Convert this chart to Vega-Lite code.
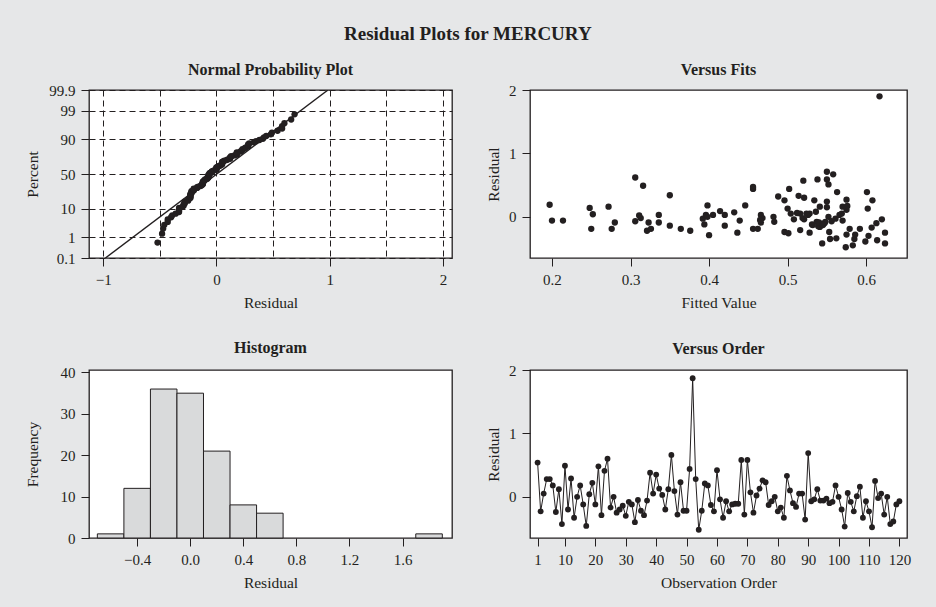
{
"$schema": "https://vega.github.io/schema/vega-lite/v6.json",
"background": "#e6e7e8",
"padding": {"left": 24, "top": 25, "right": 30, "bottom": 20},
"title": {"text": "Residual Plots for MERCURY", "fontSize": 19, "anchor": "middle", "offset": 17},
"bounds": "flush",
"columns": 2,
"spacing": {"row": 112, "column": 78},
"config": {
  "font": "Liberation Serif",
  "view": {"stroke": "#231f20", "strokeWidth": 1.3, "fill": "white"},
  "axis": {"labelFont": "Liberation Serif", "titleFont": "Liberation Serif", "labelFontSize": 15, "titleFontSize": 15.5, "titleFontWeight": "normal", "labelColor": "#231f20", "titleColor": "#231f20", "tickColor": "#231f20", "tickWidth": 1, "domain": false, "grid": false, "tickSize": 8, "labelPadding": 6, "titlePadding": 8, "labelOverlap": false, "tickCount": 20},
  "title": {"font": "Liberation Serif", "fontSize": 16, "fontWeight": "bold", "color": "#231f20", "offset": 10}
},
"datasets": {
  "obs": [
    {"obs":1,"residual":0.54},{"obs":2,"residual":-0.23},{"obs":3,"residual":0.05},{"obs":4,"residual":0.28},{"obs":5,"residual":0.28},
    {"obs":6,"residual":0.18},{"obs":7,"residual":-0.24},{"obs":8,"residual":0.12},{"obs":9,"residual":-0.43},{"obs":10,"residual":0.49},
    {"obs":11,"residual":-0.20},{"obs":12,"residual":0.29},{"obs":13,"residual":-0.33},{"obs":14,"residual":0.00},{"obs":15,"residual":0.18},
    {"obs":16,"residual":-0.12},{"obs":17,"residual":-0.46},{"obs":18,"residual":0.04},{"obs":19,"residual":0.22},{"obs":20,"residual":-0.12},
    {"obs":21,"residual":0.48},{"obs":22,"residual":-0.29},{"obs":23,"residual":0.41},{"obs":24,"residual":0.60},{"obs":25,"residual":-0.17},
    {"obs":26,"residual":0.00},{"obs":27,"residual":-0.25},{"obs":28,"residual":-0.20},{"obs":29,"residual":-0.14},{"obs":30,"residual":-0.30},
    {"obs":31,"residual":-0.08},{"obs":32,"residual":-0.12},{"obs":33,"residual":-0.40},{"obs":34,"residual":-0.05},{"obs":35,"residual":-0.22},
    {"obs":36,"residual":-0.29},{"obs":37,"residual":-0.06},{"obs":38,"residual":0.38},{"obs":39,"residual":0.05},{"obs":40,"residual":0.35},
    {"obs":41,"residual":0.13},{"obs":42,"residual":0.03},{"obs":43,"residual":-0.20},{"obs":44,"residual":0.12},{"obs":45,"residual":0.66},
    {"obs":46,"residual":0.09},{"obs":47,"residual":-0.28},{"obs":48,"residual":0.23},{"obs":49,"residual":-0.22},{"obs":50,"residual":-0.22},
    {"obs":51,"residual":0.44},{"obs":52,"residual":1.87},{"obs":53,"residual":0.28},{"obs":54,"residual":-0.52},{"obs":55,"residual":-0.22},
    {"obs":56,"residual":0.21},{"obs":57,"residual":0.18},{"obs":58,"residual":-0.13},{"obs":59,"residual":-0.23},{"obs":60,"residual":0.42},
    {"obs":61,"residual":-0.04},{"obs":62,"residual":-0.33},{"obs":63,"residual":-0.07},{"obs":64,"residual":-0.23},{"obs":65,"residual":-0.12},
    {"obs":66,"residual":-0.11},{"obs":67,"residual":-0.11},{"obs":68,"residual":0.58},{"obs":69,"residual":-0.28},{"obs":70,"residual":0.58},
    {"obs":71,"residual":0.07},{"obs":72,"residual":-0.25},{"obs":73,"residual":0.02},{"obs":74,"residual":0.13},{"obs":75,"residual":0.26},
    {"obs":76,"residual":0.23},{"obs":77,"residual":-0.13},{"obs":78,"residual":-0.07},{"obs":79,"residual":0.00},{"obs":80,"residual":-0.23},
    {"obs":81,"residual":-0.17},{"obs":82,"residual":-0.33},{"obs":83,"residual":0.33},{"obs":84,"residual":0.10},{"obs":85,"residual":-0.10},
    {"obs":86,"residual":-0.16},{"obs":87,"residual":0.05},{"obs":88,"residual":0.05},{"obs":89,"residual":-0.36},{"obs":90,"residual":0.69},
    {"obs":91,"residual":-0.07},{"obs":92,"residual":-0.04},{"obs":93,"residual":0.12},{"obs":94,"residual":-0.06},{"obs":95,"residual":-0.06},
    {"obs":96,"residual":-0.03},{"obs":97,"residual":-0.10},{"obs":98,"residual":-0.08},{"obs":99,"residual":0.18},{"obs":100,"residual":0.00},
    {"obs":101,"residual":-0.20},{"obs":102,"residual":-0.47},{"obs":103,"residual":0.06},{"obs":104,"residual":-0.08},{"obs":105,"residual":-0.23},
    {"obs":106,"residual":0.01},{"obs":107,"residual":0.16},{"obs":108,"residual":-0.33},{"obs":109,"residual":-0.07},{"obs":110,"residual":-0.23},
    {"obs":111,"residual":-0.48},{"obs":112,"residual":0.25},{"obs":113,"residual":-0.02},{"obs":114,"residual":0.05},{"obs":115,"residual":-0.28},
    {"obs":116,"residual":0.00},{"obs":117,"residual":-0.43},{"obs":118,"residual":-0.39},{"obs":119,"residual":-0.12},{"obs":120,"residual":-0.07}
  ],
  "npp": [
    {"residual":-0.52,"z":-2.523},{"residual":-0.48,"z":-2.194},{"residual":-0.47,"z":-2.006},{"residual":-0.46,"z":-1.870},{"residual":-0.43,"z":-1.762},
    {"residual":-0.43,"z":-1.671},{"residual":-0.40,"z":-1.592},{"residual":-0.39,"z":-1.522},{"residual":-0.36,"z":-1.459},{"residual":-0.33,"z":-1.401},
    {"residual":-0.33,"z":-1.348},{"residual":-0.33,"z":-1.298},{"residual":-0.33,"z":-1.251},{"residual":-0.30,"z":-1.207},{"residual":-0.29,"z":-1.165},
    {"residual":-0.29,"z":-1.125},{"residual":-0.28,"z":-1.086},{"residual":-0.28,"z":-1.049},{"residual":-0.28,"z":-1.014},{"residual":-0.25,"z":-0.980},
    {"residual":-0.25,"z":-0.947},{"residual":-0.24,"z":-0.915},{"residual":-0.23,"z":-0.883},{"residual":-0.23,"z":-0.853},{"residual":-0.23,"z":-0.823},
    {"residual":-0.23,"z":-0.794},{"residual":-0.23,"z":-0.766},{"residual":-0.23,"z":-0.739},{"residual":-0.22,"z":-0.711},{"residual":-0.22,"z":-0.685},
    {"residual":-0.22,"z":-0.659},{"residual":-0.22,"z":-0.633},{"residual":-0.20,"z":-0.608},{"residual":-0.20,"z":-0.583},{"residual":-0.20,"z":-0.559},
    {"residual":-0.20,"z":-0.535},{"residual":-0.17,"z":-0.511},{"residual":-0.17,"z":-0.487},{"residual":-0.16,"z":-0.464},{"residual":-0.14,"z":-0.441},
    {"residual":-0.13,"z":-0.418},{"residual":-0.13,"z":-0.395},{"residual":-0.12,"z":-0.373},{"residual":-0.12,"z":-0.351},{"residual":-0.12,"z":-0.329},
    {"residual":-0.12,"z":-0.307},{"residual":-0.12,"z":-0.285},{"residual":-0.11,"z":-0.263},{"residual":-0.11,"z":-0.242},{"residual":-0.10,"z":-0.220},
    {"residual":-0.10,"z":-0.199},{"residual":-0.08,"z":-0.178},{"residual":-0.08,"z":-0.157},{"residual":-0.08,"z":-0.136},{"residual":-0.07,"z":-0.115},
    {"residual":-0.07,"z":-0.094},{"residual":-0.07,"z":-0.073},{"residual":-0.07,"z":-0.052},{"residual":-0.07,"z":-0.031},{"residual":-0.06,"z":-0.010},
    {"residual":-0.06,"z":0.010},{"residual":-0.06,"z":0.031},{"residual":-0.05,"z":0.052},{"residual":-0.04,"z":0.073},{"residual":-0.04,"z":0.094},
    {"residual":-0.03,"z":0.115},{"residual":-0.02,"z":0.136},{"residual":0.00,"z":0.157},{"residual":0.00,"z":0.178},{"residual":0.00,"z":0.199},
    {"residual":0.00,"z":0.220},{"residual":0.00,"z":0.242},{"residual":0.01,"z":0.263},{"residual":0.02,"z":0.285},{"residual":0.03,"z":0.307},
    {"residual":0.04,"z":0.329},{"residual":0.05,"z":0.351},{"residual":0.05,"z":0.373},{"residual":0.05,"z":0.395},{"residual":0.05,"z":0.418},
    {"residual":0.05,"z":0.441},{"residual":0.06,"z":0.464},{"residual":0.07,"z":0.487},{"residual":0.09,"z":0.511},{"residual":0.10,"z":0.535},
    {"residual":0.12,"z":0.559},{"residual":0.12,"z":0.583},{"residual":0.12,"z":0.608},{"residual":0.13,"z":0.633},{"residual":0.13,"z":0.659},
    {"residual":0.16,"z":0.685},{"residual":0.18,"z":0.711},{"residual":0.18,"z":0.739},{"residual":0.18,"z":0.766},{"residual":0.18,"z":0.794},
    {"residual":0.21,"z":0.823},{"residual":0.22,"z":0.853},{"residual":0.23,"z":0.883},{"residual":0.23,"z":0.915},{"residual":0.25,"z":0.947},
    {"residual":0.26,"z":0.980},{"residual":0.28,"z":1.014},{"residual":0.28,"z":1.049},{"residual":0.28,"z":1.086},{"residual":0.29,"z":1.125},
    {"residual":0.33,"z":1.165},{"residual":0.35,"z":1.207},{"residual":0.38,"z":1.251},{"residual":0.41,"z":1.298},{"residual":0.42,"z":1.348},
    {"residual":0.44,"z":1.401},{"residual":0.48,"z":1.459},{"residual":0.49,"z":1.522},{"residual":0.54,"z":1.592},{"residual":0.58,"z":1.671},
    {"residual":0.58,"z":1.762},{"residual":0.60,"z":1.870},{"residual":0.66,"z":2.006},{"residual":0.69,"z":2.194}
  ],
  "nline": [{"residual":-0.98,"z":-3.0902},{"residual":0.985,"z":3.0902}],
  "fits": [
    {"fitted":0.197,"residual":0.19},{"fitted":0.200,"residual":-0.06},{"fitted":0.214,"residual":-0.06},{"fitted":0.248,"residual":0.14},{"fitted":0.250,"residual":-0.19},
    {"fitted":0.252,"residual":0.04},{"fitted":0.272,"residual":0.16},{"fitted":0.276,"residual":-0.19},{"fitted":0.280,"residual":-0.09},{"fitted":0.306,"residual":0.62},
    {"fitted":0.306,"residual":-0.07},{"fitted":0.311,"residual":0.02},{"fitted":0.313,"residual":-0.02},{"fitted":0.316,"residual":0.49},{"fitted":0.321,"residual":-0.22},
    {"fitted":0.323,"residual":-0.09},{"fitted":0.326,"residual":-0.19},{"fitted":0.336,"residual":-0.09},{"fitted":0.336,"residual":0.03},{"fitted":0.350,"residual":0.34},
    {"fitted":0.350,"residual":-0.14},{"fitted":0.364,"residual":-0.19},{"fitted":0.376,"residual":-0.22},{"fitted":0.392,"residual":-0.03},{"fitted":0.394,"residual":-0.12},
    {"fitted":0.396,"residual":0.03},{"fitted":0.398,"residual":0.18},{"fitted":0.400,"residual":-0.29},{"fitted":0.405,"residual":0.03},{"fitted":0.414,"residual":0.09},
    {"fitted":0.420,"residual":0.03},{"fitted":0.420,"residual":-0.14},{"fitted":0.432,"residual":0.07},{"fitted":0.436,"residual":-0.25},{"fitted":0.439,"residual":-0.06},
    {"fitted":0.446,"residual":0.18},{"fitted":0.456,"residual":0.44},{"fitted":0.456,"residual":0.47},{"fitted":0.456,"residual":-0.19},{"fitted":0.462,"residual":-0.19},
    {"fitted":0.466,"residual":0.03},{"fitted":0.466,"residual":-0.09},{"fitted":0.468,"residual":-0.02},{"fitted":0.465,"residual":-0.05},{"fitted":0.398,"residual":0.00},
    {"fitted":0.482,"residual":0.00},{"fitted":0.483,"residual":-0.08},{"fitted":0.488,"residual":0.32},{"fitted":0.496,"residual":0.26},{"fitted":0.496,"residual":-0.24},
    {"fitted":0.502,"residual":0.44},{"fitted":0.500,"residual":0.13},{"fitted":0.501,"residual":-0.26},{"fitted":0.504,"residual":0.05},{"fitted":0.508,"residual":-0.04},
    {"fitted":0.514,"residual":0.33},{"fitted":0.516,"residual":-0.21},{"fitted":0.516,"residual":0.05},{"fitted":0.520,"residual":0.57},{"fitted":0.521,"residual":0.30},
    {"fitted":0.521,"residual":-0.04},{"fitted":0.524,"residual":0.05},{"fitted":0.528,"residual":0.05},{"fitted":0.528,"residual":-0.25},{"fitted":0.531,"residual":-0.12},
    {"fitted":0.534,"residual":0.26},{"fitted":0.536,"residual":0.08},{"fitted":0.538,"residual":0.59},{"fitted":0.532,"residual":-0.13},{"fitted":0.537,"residual":-0.08},
    {"fitted":0.539,"residual":-0.15},{"fitted":0.541,"residual":0.16},{"fitted":0.541,"residual":-0.16},{"fitted":0.544,"residual":-0.42},{"fitted":0.547,"residual":-0.10},
    {"fitted":0.548,"residual":-0.08},{"fitted":0.550,"residual":0.71},{"fitted":0.550,"residual":0.59},{"fitted":0.550,"residual":0.24},{"fitted":0.550,"residual":0.15},
    {"fitted":0.552,"residual":0.51},{"fitted":0.552,"residual":0.00},{"fitted":0.553,"residual":-0.24},{"fitted":0.554,"residual":-0.35},{"fitted":0.558,"residual":0.67},
    {"fitted":0.561,"residual":-0.03},{"fitted":0.562,"residual":-0.34},{"fitted":0.563,"residual":0.39},{"fitted":0.566,"residual":0.03},{"fitted":0.569,"residual":0.05},
    {"fitted":0.570,"residual":0.16},{"fitted":0.570,"residual":-0.06},{"fitted":0.574,"residual":-0.48},{"fitted":0.575,"residual":0.27},{"fitted":0.575,"residual":0.11},
    {"fitted":0.575,"residual":-0.28},{"fitted":0.576,"residual":0.17},{"fitted":0.579,"residual":-0.19},{"fitted":0.583,"residual":-0.45},{"fitted":0.585,"residual":-0.35},
    {"fitted":0.586,"residual":-0.28},{"fitted":0.592,"residual":-0.19},{"fitted":0.599,"residual":-0.39},{"fitted":0.601,"residual":0.39},{"fitted":0.602,"residual":0.13},
    {"fitted":0.603,"residual":-0.30},{"fitted":0.607,"residual":-0.17},{"fitted":0.608,"residual":0.26},{"fitted":0.613,"residual":-0.10},{"fitted":0.614,"residual":-0.37},
    {"fitted":0.617,"residual":1.90},{"fitted":0.620,"residual":-0.04},{"fitted":0.624,"residual":-0.25},{"fitted":0.624,"residual":-0.42},{"fitted":0.512,"residual":0.06},
    {"fitted":0.526,"residual":0.03},{"fitted":0.540,"residual":-0.09},{"fitted":0.545,"residual":-0.13},{"fitted":0.556,"residual":-0.07},{"fitted":0.519,"residual":-0.02}
  ],
  "hist": [
    {"bin_start":-0.7,"bin_end":-0.5,"count":1},{"bin_start":-0.5,"bin_end":-0.3,"count":12},{"bin_start":-0.3,"bin_end":-0.1,"count":36},
    {"bin_start":-0.1,"bin_end":0.1,"count":35},{"bin_start":0.1,"bin_end":0.3,"count":21},{"bin_start":0.3,"bin_end":0.5,"count":8},
    {"bin_start":0.5,"bin_end":0.7,"count":6},{"bin_start":1.7,"bin_end":1.9,"count":1}
  ]
},
"concat": [
  {
    "width": 363, "height": 168,
    "title": {"text": "Normal Probability Plot", "offset": 5},
    "layer": [
      {
        "data": {"name": "nline"},
        "mark": {"type": "line", "color": "#231f20", "strokeWidth": 1.4, "clip": true},
        "encoding": {
          "x": {"field": "residual", "type": "quantitative", "title": "Residual",
            "scale": {"domain": [-1.125, 2.08], "nice": false, "zero": false},
            "axis": {"values": [-1, -0.5, 0, 0.5, 1, 1.5, 2], "format": "~f", "labelExpr": "datum.value % 1 === 0 ? datum.label : ''",
              "grid": true, "gridDash": [6, 4], "gridColor": "#231f20", "gridWidth": 1, "gridOpacity": 1,
              "tickOpacity": {"condition": {"test": "datum.value % 1 !== 0", "value": 0}, "value": 1}}},
          "y": {"field": "z", "type": "quantitative", "title": "Percent",
            "scale": {"domain": [-3.0902, 3.0902], "nice": false, "zero": false},
            "axis": {"values": [-3.0902, -2.3263, -1.2816, 0, 1.2816, 2.3263, 3.0902],
              "labelExpr": "datum.value < -3 ? '0.1' : datum.value < -2 ? '1' : datum.value < -1 ? '10' : datum.value < 1 ? '50' : datum.value < 2 ? '90' : datum.value < 3 ? '99' : '99.9'",
              "grid": true, "gridDash": [6, 4], "gridColor": "#231f20", "gridWidth": 1, "gridOpacity": 1,
              "titleX": -57, "titleBaseline": "middle"}}
        }
      },
      {
        "data": {"name": "npp"},
        "mark": {"type": "circle", "size": 40, "color": "#231f20", "opacity": 1},
        "encoding": {
          "x": {"field": "residual", "type": "quantitative"},
          "y": {"field": "z", "type": "quantitative"}
        }
      }
    ]
  },
  {
    "width": 377, "height": 168,
    "title": {"text": "Versus Fits", "offset": 5},
    "layer": [
      {
        "mark": {"type": "rule", "color": "#231f20", "strokeDash": [8, 5], "strokeWidth": 1},
        "encoding": {"y": {"datum": 0, "type": "quantitative"}}
      },
      {
        "data": {"name": "fits"},
        "mark": {"type": "circle", "size": 40, "color": "#231f20", "opacity": 1},
        "encoding": {
          "x": {"field": "fitted", "type": "quantitative", "title": "Fitted Value",
            "scale": {"domain": [0.172, 0.652], "nice": false, "zero": false},
            "axis": {"values": [0.2, 0.3, 0.4, 0.5, 0.6], "format": ".1f"}},
          "y": {"field": "residual", "type": "quantitative", "title": "Residual",
            "scale": {"domain": [-0.65, 2.0], "nice": false, "zero": false},
            "axis": {"values": [0, 1, 2], "format": "d", "titleX": -37, "titleBaseline": "middle"}}
        }
      }
    ]
  },
  {
    "width": 363, "height": 168,
    "title": {"text": "Histogram", "offset": 9},
    "data": {"name": "hist"},
    "mark": {"type": "bar", "fill": "#d9dadb", "stroke": "#231f20", "strokeWidth": 1},
    "encoding": {
      "x": {"field": "bin_start", "type": "quantitative", "title": "Residual",
        "scale": {"domain": [-0.763, 1.973], "nice": false, "zero": false},
        "axis": {"values": [-0.4, 0, 0.4, 0.8, 1.2, 1.6], "format": ".1f"}},
      "x2": {"field": "bin_end"},
      "y": {"field": "count", "type": "quantitative", "title": "Frequency",
        "scale": {"domain": [0, 40.6], "nice": false},
        "axis": {"values": [0, 10, 20, 30, 40], "format": "d", "titleX": -57, "titleBaseline": "middle"}},
      "y2": {"datum": 0}
    }
  },
  {
    "width": 377, "height": 168,
    "title": {"text": "Versus Order", "offset": 6},
    "layer": [
      {
        "mark": {"type": "rule", "color": "#231f20", "strokeDash": [8, 5], "strokeWidth": 1},
        "encoding": {"y": {"datum": 0, "type": "quantitative"}}
      },
      {
        "data": {"name": "obs"},
        "mark": {"type": "line", "color": "#231f20", "strokeWidth": 1},
        "encoding": {
          "x": {"field": "obs", "type": "quantitative", "title": "Observation Order",
            "scale": {"domain": [-1.5, 122.5], "nice": false, "zero": false},
            "axis": {"values": [1, 10, 20, 30, 40, 50, 60, 70, 80, 90, 100, 110, 120], "format": "d"}},
          "y": {"field": "residual", "type": "quantitative", "title": "Residual",
            "scale": {"domain": [-0.65, 2.0], "nice": false, "zero": false},
            "axis": {"values": [0, 1, 2], "format": "d", "titleX": -37, "titleBaseline": "middle"}}
        }
      },
      {
        "data": {"name": "obs"},
        "mark": {"type": "circle", "size": 34, "color": "#231f20", "opacity": 1},
        "encoding": {
          "x": {"field": "obs", "type": "quantitative"},
          "y": {"field": "residual", "type": "quantitative"}
        }
      }
    ]
  }
]
}
